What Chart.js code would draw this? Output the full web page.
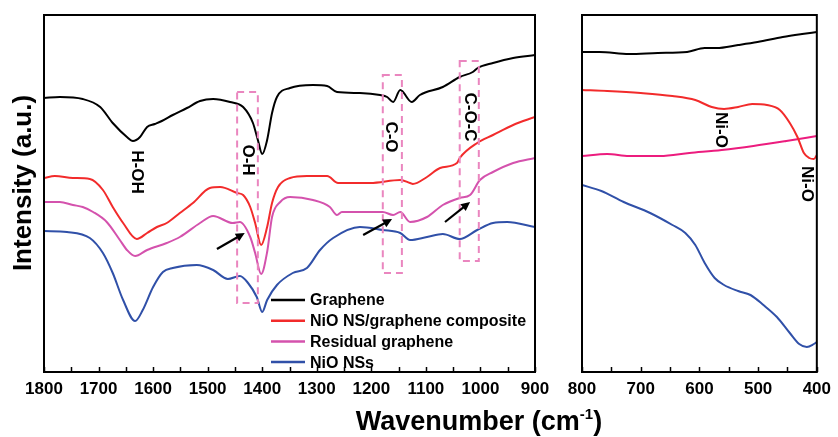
<!DOCTYPE html>
<html>
<head>
<meta charset="utf-8">
<script src="https://cdn.jsdelivr.net/npm/chart.js@4.4.0/dist/chart.umd.min.js"></script>
<style>
  html, body { margin: 0; padding: 0; background: #fff; }
  #wrap { position: relative; width: 838px; height: 437px; }
  canvas { position: absolute; left: 0; top: 0; }
</style>
</head>
<body>
<div id="wrap">
  <canvas id="chart-left" width="838" height="437"></canvas>
  <canvas id="chart-right" width="838" height="437"></canvas>
</div>
<script>
// left panel, 1800-900 cm-1
const grapheneWnL = [1800,1771,1729,1697,1674,1648,1637,1624,1611,1597,1584,1564,1538,1514,1490,1459,1435,1417,1408,1400,1391,1382,1373,1349,1307,1281,1263,1221,1184,1171,1160,1147,1126,1111,1069,1038,1014,1005,977,940,900];
const grapheneL = [274,275,273,265,249,235,231,235,245,248,251,257,264,271,273,270,265,249,232,218,232,259,275,284,287,286,280,279,277,275,270,282,270,277,285,295,300,304,309,314,317];

const compositeWnL = [1800,1780,1747,1716,1692,1674,1655,1630,1611,1593,1575,1551,1527,1496,1477,1446,1435,1422,1413,1402,1391,1382,1371,1349,1318,1281,1261,1202,1147,1129,1124,1098,1074,1043,1038,1006,977,940,900];
const compositeL = [194,196,194,193,182,165,149,133,139,145,149,159,169,184,185,179,177,165,149,127,145,169,185,194,196,196,189,189,192,189,188,195,204,209,214,229,237,247,255];

const residualWnL = [1800,1771,1747,1729,1710,1685,1661,1648,1633,1611,1575,1551,1514,1490,1454,1441,1422,1413,1402,1391,1382,1367,1349,1307,1276,1263,1254,1202,1179,1160,1147,1129,1098,1069,1038,1019,1001,977,940,900];
const residualL = [170,170,167,165,160,150,132,122,116,122,129,135,149,156,149,150,135,119,98,120,155,170,175,172,165,157,160,160,160,157,160,150,155,167,174,177,192,200,209,214];

const nioWnL = [1800,1758,1716,1692,1674,1655,1633,1619,1600,1582,1564,1520,1490,1463,1441,1426,1410,1400,1391,1373,1344,1318,1294,1270,1221,1179,1147,1129,1098,1069,1038,1006,977,951,900];
const nioL = [141,140,134,119,99,72,51,62,85,100,104,107,102,93,96,89,75,60,72,87,99,104,122,134,145,142,139,132,135,138,133,142,149,150,145];

// right panel, 800-400 cm-1
const grapheneWnR = [800,770,720,671,621,591,571,534,501,458,425,400];
const grapheneR = [320,320,318,319,320,324,324,327,330,335,338,340];

const compositeWnR = [800,757,700,646,607,579,558,534,510,485,463,446,433,422,413,405,400];
const compositeR = [282,281,279,276,272,265,263,265,268,267,262,249,235,219,214,213,217];

const residualWnR = [800,757,720,667,617,562,508,452,400];
const residualR = [216,218,216,216,219,222,226,231,236];

const nioWnR = [800,767,729,684,646,624,607,591,574,558,534,513,491,468,446,430,417,405,400];
const nioR = [187,181,170,159,147,139,127,109,94,87,81,77,67,55,39,28,25,28,30];

const seriesNames = ['Graphene', 'NiO NS/graphene composite', 'Residual graphene', 'NiO NSs'];

const colors = {
  black: '#000000',
  red: '#f22b2b',
  pink: '#d452ad',
  hotPink: '#ec1c7e',
  blue: '#3050a8',
  box: '#ea86bf'
};

// annotations in data units (wavenumber, intensity)
const leftBoxes = [[1446, 1408, 280, 69], [1179, 1144, 297, 99], [1038, 1003, 311, 111]];
const leftLabels = [['H-OH', 1630, 200], ['O-H', 1426, 212], ['C-O', 1164, 235], ['C-O-C', 1019, 255]];
const leftArrows = [[1483, 123, 1432, 139], [1215, 137, 1162, 153], [1065, 150, 1019, 170]];
const rightLabels = [['Ni-O', 563, 242], ['Ni-O', 418, 188]];

const pts = (wn, vals) => wn.map((w, i) => ({ x: w, y: vals[i] }));

function line(label, data, color) {
  return {
    label: label,
    data: data,
    borderColor: color,
    backgroundColor: color,
    borderWidth: 2,
    pointRadius: 0,
    cubicInterpolationMode: 'monotone'
  };
}

const framePlugin = {
  id: 'frame',
  afterDatasetsDraw(chart) {
    const { ctx, chartArea: a, scales: { x } } = chart;
    ctx.save();
    ctx.strokeStyle = '#000';
    ctx.lineWidth = 1.5;
    for (let v = x.min; v <= x.max; v += 50) {
      const px = Math.round(x.getPixelForValue(v)) + 0.5;
      ctx.beginPath();
      ctx.moveTo(px, a.bottom);
      ctx.lineTo(px, a.bottom - 5);
      ctx.stroke();
    }
    ctx.lineWidth = 2;
    ctx.strokeRect(a.left, a.top, a.right - a.left, a.bottom - a.top);
    ctx.restore();
  }
};

const notesPlugin = {
  id: 'notes',
  afterDatasetsDraw(chart, args, opts) {
    const { ctx, scales: { x, y } } = chart;
    ctx.save();
    ctx.strokeStyle = colors.box;
    ctx.lineWidth = 2;
    ctx.setLineDash([7, 5]);
    (opts.boxes || []).forEach(([x1, x2, y1, y2]) => {
      const l = x.getPixelForValue(x1), r = x.getPixelForValue(x2);
      const t = y.getPixelForValue(y1), b = y.getPixelForValue(y2);
      ctx.strokeRect(l, t, r - l, b - t);
    });
    ctx.setLineDash([]);

    ctx.fillStyle = '#000';
    ctx.font = 'bold 17px "Liberation Sans", Arial, sans-serif';
    ctx.textAlign = 'center';
    ctx.textBaseline = 'middle';
    (opts.labels || []).forEach(([text, wx, wy]) => {
      ctx.save();
      ctx.translate(x.getPixelForValue(wx), y.getPixelForValue(wy));
      ctx.rotate(Math.PI / 2);
      ctx.fillText(text, 0, 0);
      ctx.restore();
    });

    ctx.strokeStyle = '#000';
    ctx.lineWidth = 2.2;
    (opts.arrows || []).forEach(([ax, ay, bx, by]) => {
      const x0 = x.getPixelForValue(ax), y0 = y.getPixelForValue(ay);
      const x1 = x.getPixelForValue(bx), y1 = y.getPixelForValue(by);
      const ang = Math.atan2(y1 - y0, x1 - x0);
      ctx.beginPath();
      ctx.moveTo(x0, y0);
      ctx.lineTo(x1 - 5 * Math.cos(ang), y1 - 5 * Math.sin(ang));
      ctx.stroke();
      ctx.beginPath();
      ctx.moveTo(x1, y1);
      ctx.lineTo(x1 - 10 * Math.cos(ang - 0.45), y1 - 10 * Math.sin(ang - 0.45));
      ctx.lineTo(x1 - 10 * Math.cos(ang + 0.45), y1 - 10 * Math.sin(ang + 0.45));
      ctx.closePath();
      ctx.fill();
    });

    if (opts.legend) {
      const lx = 271, ly = 300, gap = 20.7;
      ctx.font = 'bold 16px "Liberation Sans", Arial, sans-serif';
      ctx.textAlign = 'left';
      chart.data.datasets.forEach((ds, i) => {
        const yy = ly + i * gap;
        ctx.strokeStyle = ds.borderColor;
        ctx.lineWidth = 2.5;
        ctx.beginPath();
        ctx.moveTo(lx, yy);
        ctx.lineTo(lx + 34, yy);
        ctx.stroke();
        ctx.fillStyle = '#000';
        ctx.fillText(ds.label, lx + 39, yy + 1);
      });
    }

    if (opts.titles) {
      ctx.fillStyle = '#000';
      ctx.textBaseline = 'alphabetic';
      ctx.textAlign = 'left';
      const big = 'bold 27px "Liberation Sans", Arial, sans-serif';
      const small = 'bold 15px "Liberation Sans", Arial, sans-serif';
      const parts = [['Wavenumber (cm', big, 0], ['-1', small, -11], [')', big, 0]];
      let w = 0;
      parts.forEach(([t, f]) => { ctx.font = f; w += ctx.measureText(t).width; });
      let cx = 479 - w / 2;
      parts.forEach(([t, f, dy]) => {
        ctx.font = f;
        ctx.fillText(t, cx, 430 + dy);
        cx += ctx.measureText(t).width;
      });

      ctx.save();
      ctx.translate(31, 183);
      ctx.rotate(-Math.PI / 2);
      ctx.font = 'bold 26px "Liberation Sans", Arial, sans-serif';
      ctx.textAlign = 'center';
      ctx.fillText('Intensity (a.u.)', 0, 0);
      ctx.restore();
    }
    ctx.restore();
  }
};

function axisOptions(min, max, pad, notes) {
  return {
    responsive: false,
    animation: false,
    layout: { padding: pad },
    plugins: {
      legend: { display: false },
      tooltip: { enabled: false },
      notes: notes
    },
    scales: {
      x: {
        type: 'linear',
        min: min,
        max: max,
        reverse: true,
        grid: { display: false, drawTicks: false },
        border: { display: false },
        ticks: {
          stepSize: 100,
          padding: 7,
          color: '#000',
          maxRotation: 0,
          callback: v => String(v),
          font: { family: '"Liberation Sans", Arial, sans-serif', size: 17, weight: 'bold' }
        },
        afterFit: s => { s.height = 65; }
      },
      y: {
        display: false,
        min: 0,
        max: 357
      }
    }
  };
}

new Chart(document.getElementById('chart-left'), {
  type: 'line',
  data: {
    datasets: [
      line(seriesNames[0], pts(grapheneWnL, grapheneL), colors.black),
      line(seriesNames[1], pts(compositeWnL, compositeL), colors.red),
      line(seriesNames[2], pts(residualWnL, residualL), colors.pink),
      line(seriesNames[3], pts(nioWnL, nioL), colors.blue)
    ]
  },
  options: axisOptions(900, 1800, { left: 44, top: 15, right: 303, bottom: 0 }, {
    boxes: leftBoxes, labels: leftLabels, arrows: leftArrows, legend: true, titles: true
  }),
  plugins: [framePlugin, notesPlugin]
});

new Chart(document.getElementById('chart-right'), {
  type: 'line',
  data: {
    datasets: [
      line(seriesNames[0], pts(grapheneWnR, grapheneR), colors.black),
      line(seriesNames[1], pts(compositeWnR, compositeR), colors.red),
      line(seriesNames[2], pts(residualWnR, residualR), colors.hotPink),
      line(seriesNames[3], pts(nioWnR, nioR), colors.blue)
    ]
  },
  options: axisOptions(400, 800, { left: 582, top: 15, right: 15, bottom: 0 }, {
    labels: rightLabels
  }),
  plugins: [framePlugin, notesPlugin]
});
</script>
</body>
</html>
